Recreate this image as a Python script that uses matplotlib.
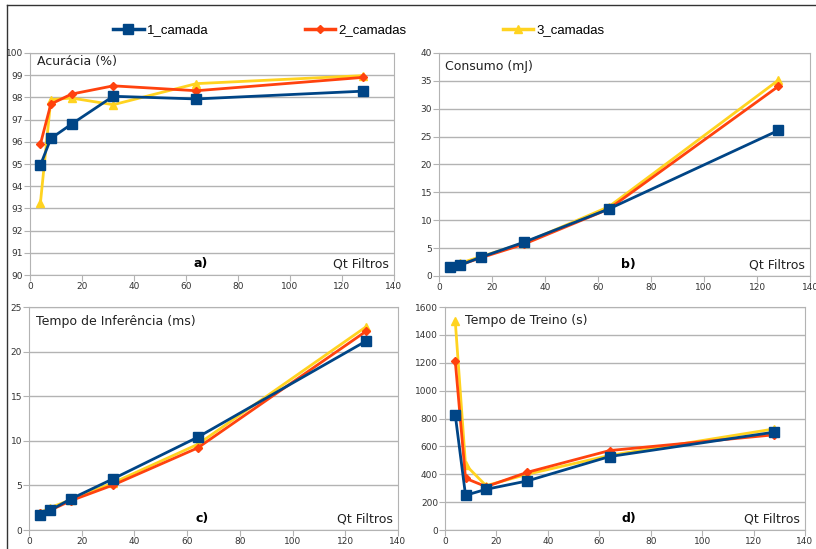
import numpy as np
import matplotlib.pyplot as plt
from matplotlib.lines import Line2D

BLUE = "#004586"
ORANGE = "#ff420e"
YELLOW = "#ffd320"
GRID = "#b3b3b3"

filtros = [4, 8, 16, 32, 64, 128]
series_names = ["1_camada", "2_camadas", "3_camadas"]

acuracia_1 = [94.95, 96.15, 96.8, 98.05, 97.93, 98.28]
acuracia_2 = [95.9, 97.7, 98.15, 98.52, 98.3, 98.9]
acuracia_3 = [93.25, 97.9, 97.97, 97.67, 98.62, 98.98]

consumo_1 = [1.55, 1.95, 3.4, 6.05, 12.0, 26.1]
consumo_2 = [1.8, 2.0, 3.3, 5.7, 12.0, 34.0]
consumo_3 = [1.7, 2.3, 3.5, 5.9, 12.4, 35.1]

inferencia_1 = [1.7, 2.2, 3.5, 5.75, 10.4, 21.2]
inferencia_2 = [1.9, 2.2, 3.3, 5.05, 9.2, 22.3]
inferencia_3 = [1.9, 2.5, 3.4, 5.3, 9.6, 22.8]

treino_1 = [826, 249, 292, 352, 527, 702]
treino_2 = [1212, 371, 311, 414, 570, 683]
treino_3 = [1499, 467, 318, 400, 535, 725]

panels = [
    dict(data=(acuracia_1, acuracia_2, acuracia_3), ylim=(90, 100), step=1,
         title="Acurácia (%)", tag="a)", rect=[0.0368, 0.499, 0.446, 0.4045],
         tpos=(0.02, 0.96), tagx=0.47),
    dict(data=(consumo_1, consumo_2, consumo_3), ylim=(0, 40), step=5,
         title="Consumo (mJ)", tag="b)", rect=[0.538, 0.4973, 0.4547, 0.4062],
         tpos=(0.016, 0.94), tagx=0.51),
    dict(data=(inferencia_1, inferencia_2, inferencia_3), ylim=(0, 25), step=5,
         title="Tempo de Inferência (ms)", tag="c)", rect=[0.0355, 0.0346, 0.4522, 0.4062],
         tpos=(0.02, 0.933), tagx=0.47),
    dict(data=(treino_1, treino_2, treino_3), ylim=(0, 1600), step=200,
         title="Tempo de Treino (s)", tag="d)", rect=[0.5453, 0.0346, 0.4412, 0.4062],
         tpos=(0.055, 0.94), tagx=0.51),
]

styles = [
    dict(color=BLUE, marker="s", markersize=7, zorder=5),
    dict(color=ORANGE, marker="D", markersize=4.5, zorder=4),
    dict(color=YELLOW, marker="^", markersize=6, zorder=3),
]

fig = plt.figure(figsize=(8.16, 5.49), dpi=100)
plt.rcParams["font.family"] = "DejaVu Sans"

# draw order: yellow under orange under blue
for p in panels:
    ax = fig.add_axes(p["rect"])
    for ys, st in zip(p["data"], styles):
        ax.plot(filtros, ys, linewidth=2, **st)
    lo, hi = p["ylim"]
    ax.set_ylim(lo, hi)
    ax.set_xlim(0, 140)
    ax.set_yticks(np.arange(lo, hi + p["step"] / 2, p["step"]))
    ax.set_xticks(range(0, 141, 20))
    ax.grid(axis="y", color=GRID, linewidth=1)
    ax.set_axisbelow(True)
    for s in ax.spines.values():
        s.set_color(GRID)
    ax.tick_params(labelsize=6.5, colors=GRID, labelcolor="#333333",
                   length=4, width=0.8, pad=1)
    ax.text(p["tpos"][0], p["tpos"][1], p["title"], transform=ax.transAxes,
            fontsize=9, ha="left", va="center", color="#222222")
    ax.text(p["tagx"], 0.05, p["tag"], transform=ax.transAxes,
            fontsize=9, fontweight="bold", ha="center", va="center")
    ax.text(0.985, 0.05, "Qt Filtros", transform=ax.transAxes,
            fontsize=9, ha="right", va="center", color="#222222")

handles = [Line2D([], [], linewidth=2.5, **st) for st in styles]
fig.legend(handles, series_names, loc="center", bbox_to_anchor=(0.44, 0.945),
           ncol=3, frameon=False, columnspacing=7.3,
           handlelength=2.3, handletextpad=0.25,
           prop={"family": "Liberation Sans", "size": 9.5})

# outer frame lines (top and left)
fig.add_artist(Line2D([0.0086, 1.0], [0.991, 0.991], color="#333333", linewidth=1))
fig.add_artist(Line2D([0.0086, 0.0086], [0.0, 0.991], color="#333333", linewidth=1))

fig.savefig("out.png", dpi=100)
